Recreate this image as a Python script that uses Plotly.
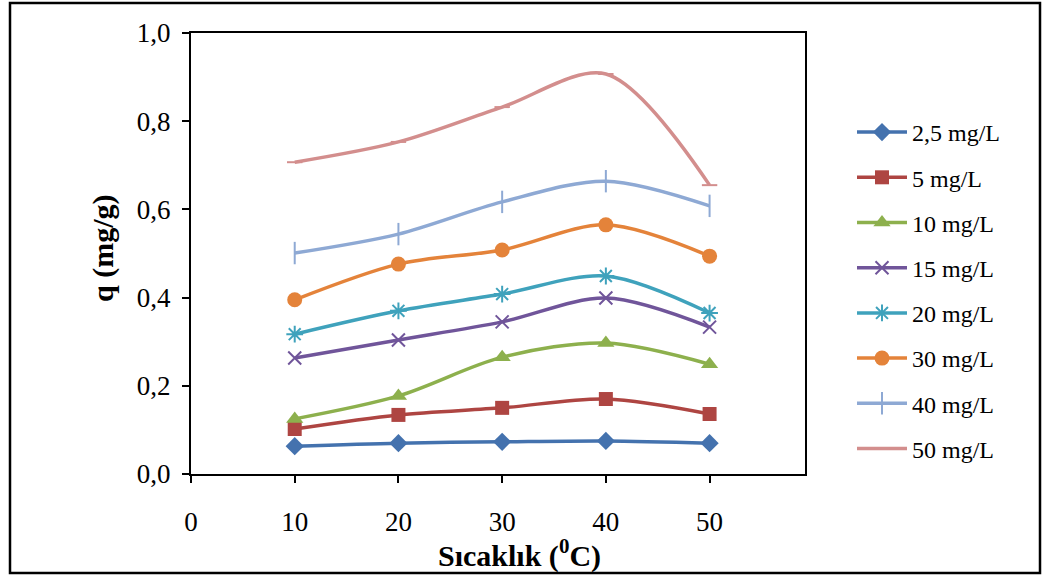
import plotly.graph_objects as go

# Temperature (°C) and adsorbed amount q (mg/g) for each initial concentration
temperature = [10, 20, 30, 40, 50]
series_names = ["2,5 mg/L", "5 mg/L", "10 mg/L", "15 mg/L",
                "20 mg/L", "30 mg/L", "40 mg/L", "50 mg/L"]
q_2_5 = [0.063, 0.070, 0.073, 0.075, 0.070]
q_5 = [0.102, 0.134, 0.150, 0.170, 0.136]
q_10 = [0.125, 0.177, 0.265, 0.297, 0.249]
q_15 = [0.263, 0.304, 0.345, 0.399, 0.333]
q_20 = [0.317, 0.370, 0.408, 0.449, 0.365]
q_30 = [0.395, 0.476, 0.508, 0.565, 0.494]
q_40 = [0.501, 0.544, 0.617, 0.664, 0.608]
q_50 = [0.707, 0.753, 0.832, 0.907, 0.655]

y_ticks = [0.0, 0.2, 0.4, 0.6, 0.8, 1.0]
y_tick_text = ["0,0", "0,2", "0,4", "0,6", "0,8", "1,0"]
x_ticks = [0, 10, 20, 30, 40, 50]

all_q = [q_2_5, q_5, q_10, q_15, q_20, q_30, q_40, q_50]
colors = ["#4472AE", "#AE4542", "#8DB04D", "#70559A",
          "#3FA2BC", "#E4833A", "#8EA9D4", "#D38E8D"]
symbols = ["diamond", "square", "triangle-up", "x-thin",
           "asterisk", "circle", "line-ns", "line-ew"]
sizes = [14, 14, 15, 13, 14, 15, 16, 11]

FONT = "Liberation Serif"
TICK_FS = 27
LEGEND_FS = 24
TITLE_FS = 30

fig = go.Figure()
for i, (name, q) in enumerate(zip(series_names, all_q)):
    thin = symbols[i] in ("x-thin", "asterisk", "line-ns", "line-ew")
    fig.add_trace(go.Scatter(
        x=temperature, y=q, name=name, mode="lines+markers",
        legendgroup=name,
        line=dict(color=colors[i], width=3.5, shape="spline", smoothing=0.9),
        marker=dict(symbol=symbols[i], size=sizes[i], color=colors[i],
                    line=dict(color=colors[i], width=2 if thin else 0)),
    ))

PL, PR, PT, PB = 191, 805, 33, 474
W, H = 1053, 576
pw, ph = PR - PL, PB - PT


def px(x):
    return (x - PL) / pw


def py(y):
    return (PB - y) / ph


fig.update_layout(
    width=W, height=H,
    margin=dict(l=PL, r=W - PR, t=PT, b=H - PB),
    paper_bgcolor="white", plot_bgcolor="white",
    font=dict(family=FONT, size=TICK_FS, color="black"),
    showlegend=True,
    legend=dict(x=px(852), y=py(110), xanchor="left", yanchor="top",
                font=dict(family=FONT, size=LEGEND_FS, color="black"),
                tracegroupgap=11, itemwidth=50,
                bgcolor="rgba(0,0,0,0)"),
    xaxis=dict(range=[0, 59.2], tickvals=x_ticks, ticks="outside",
               ticklen=7, tickwidth=1.5, tickcolor="black",
               showline=True, linecolor="black", linewidth=2, mirror=True,
               showgrid=False, zeroline=False, ticklabelstandoff=16,
               tickfont=dict(family=FONT, size=TICK_FS, color="black")),
    yaxis=dict(range=[0, 1.0], tickvals=y_ticks, ticktext=y_tick_text,
               ticks="outside", ticklen=7, tickwidth=1.5, tickcolor="black",
               showline=True, linecolor="black", linewidth=2, mirror=True,
               showgrid=False, zeroline=False, ticklabelstandoff=6,
               tickfont=dict(family=FONT, size=TICK_FS, color="black")),
    shapes=[dict(type="rect", xref="paper", yref="paper",
                 x0=px(10), x1=px(1040), y0=py(573), y1=py(3),
                 line=dict(color="black", width=2.5), layer="below")],
    annotations=[
        dict(text="<b>Sıcaklık (<sup>0</sup>C)</b>", xref="paper", yref="paper",
             x=px(519), y=py(553), xanchor="center", yanchor="middle",
             showarrow=False, font=dict(family=FONT, size=TITLE_FS, color="black")),
        dict(text="<b>q (mg/g)</b>", xref="paper", yref="paper",
             x=px(103), y=py(248), xanchor="center", yanchor="middle",
             showarrow=False, textangle=-90,
             font=dict(family=FONT, size=TITLE_FS, color="black")),
    ],
)

fig.write_html("out.html")
